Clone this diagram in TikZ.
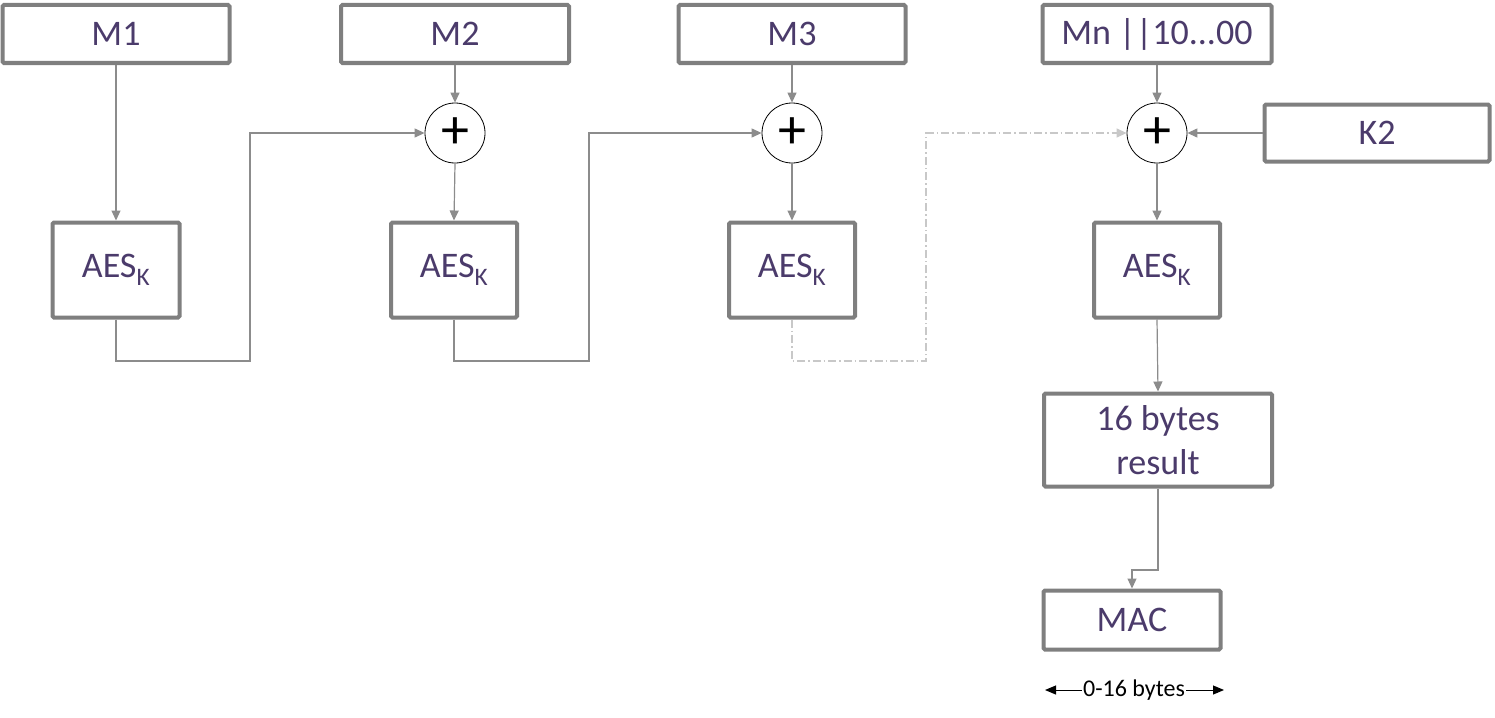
\documentclass[tikz,border=0pt]{standalone}
\usepackage{fontspec}
\setmainfont{Carlito}
\usetikzlibrary{arrows.meta}
\definecolor{txt}{HTML}{4B3B6B}
\definecolor{bord}{HTML}{7F7F7F}
\definecolor{ln}{HTML}{8C8C8C}
\definecolor{lnlight}{HTML}{C8C8C8}
\begin{document}
\begin{tikzpicture}[x=1pt,y=-1pt,
  box/.style={draw=bord,line width=4pt,rounded corners=1.5pt,fill=white,text=txt,
     font=\fontsize{36}{44}\selectfont,inner sep=0pt,align=center},
  xorc/.style={draw=black,circle,line width=0.8pt,minimum size=60pt,inner sep=0pt,
     font=\fontsize{56}{56}\selectfont},
  conn/.style={draw=ln,line width=1.2pt,-{Triangle[length=10pt,width=9pt]}},
  connd/.style={draw=lnlight,line width=1.2pt,dash pattern=on 8pt off 3pt on 1.5pt off 3pt,-{Triangle[length=10pt,width=9pt]}}]
\useasboundingbox (0,0) rectangle (1495,717);
% top message boxes
\node[box,minimum width=227pt,minimum height=58pt] (m1) at (116,34) {M1};
\node[box,minimum width=228pt,minimum height=58pt] (m2) at (455,34) {M2};
\node[box,minimum width=227pt,minimum height=58pt] (m3) at (792,34) {M3};
\node[box,minimum width=229pt,minimum height=58pt] (mn) at (1157,34) {Mn ||10...00};
\node[box,minimum width=225pt,minimum height=57pt] (k2) at (1377,133) {K2};
% xor
\node[xorc] (x2) at (455,133) {+};
\node[xorc] (x3) at (792,133) {+};
\node[xorc] (xn) at (1157,133) {+};
% AES
\node[box,minimum width=127pt,minimum height=95pt] (a1) at (116,270) {AES\textsubscript{K}};
\node[box,minimum width=126pt,minimum height=95pt] (a2) at (454,270) {AES\textsubscript{K}};
\node[box,minimum width=126pt,minimum height=95pt] (a3) at (792,270) {AES\textsubscript{K}};
\node[box,minimum width=126pt,minimum height=95pt] (an) at (1157,270) {AES\textsubscript{K}};
% result
\node[box,minimum width=228pt,minimum height=93pt] (res) at (1158,440) {16 bytes\\result};
\node[box,minimum width=177pt,minimum height=59pt] (mac) at (1132,620) {MAC};
% connectors
\draw[conn] (m1.south) -- (a1.north);
\draw[conn] (m2.south) -- (x2.north);
\draw[conn] (x2.south) -- (a2.north);
\draw[conn] (m3.south) -- (x3.north);
\draw[conn] (x3.south) -- (a3.north);
\draw[conn] (mn.south) -- (xn.north);
\draw[conn] (xn.south) -- (an.north);
\draw[conn] (k2.west) -- (xn.east);
\draw[conn] (an.south) -- (res.north);
\draw[conn] (a1.south) -- (116,361) -- (250,361) -- (250,133) -- (x2.west);
\draw[conn] (a2.south) -- (454,361) -- (589,361) -- (589,133) -- (x3.west);
\draw[connd] (a3.south) -- (792,361) -- (926,361) -- (926,133) -- (xn.west);
\draw[conn] (res.south) -- (1158,570) -- (1132,570) -- (mac.north);
% bottom measure
\node[font=\fontsize{24}{26}\selectfont,inner sep=1pt] (lbl) at (1134,690) {0-16 bytes};
\coordinate (bl) at (1045,690);
\coordinate (br) at (1224,690);
\draw[line width=1pt,-{Triangle[length=11pt,width=9pt]}] (lbl.west) -- (bl);
\draw[line width=1pt,-{Triangle[length=11pt,width=9pt]}] (lbl.east) -- (br);
\end{tikzpicture}
\end{document}
